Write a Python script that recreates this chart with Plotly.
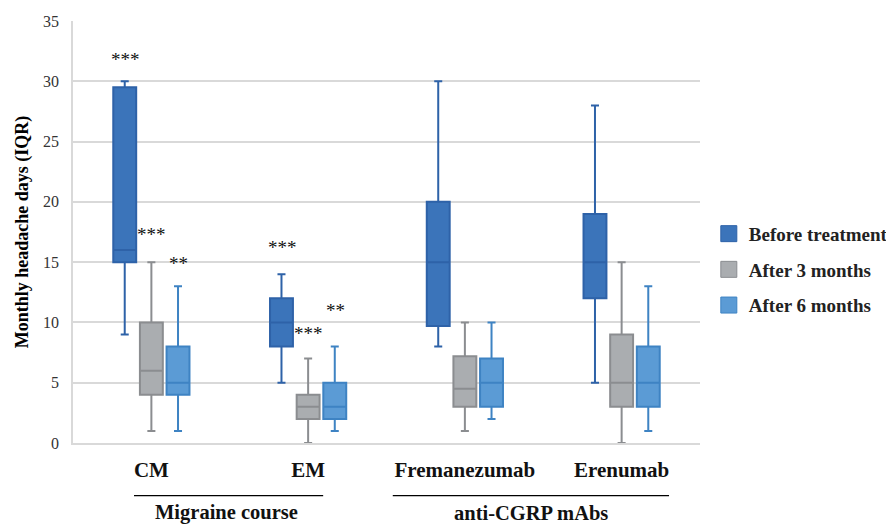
import plotly.graph_objects as go

categories = ["CM", "EM", "Fremanezumab", "Erenumab"]
series_names = ["Before treatment", "After 3 months", "After 6 months"]

before_low = [9, 5, 8, 5]
before_q1 = [15, 8, 9.7, 12]
before_med = [16, 10, 15, 15]
before_q3 = [29.5, 12, 20, 19]
before_high = [30, 14, 30, 28]

m3_low = [1, 0, 1, 0]
m3_q1 = [4, 2, 3, 3]
m3_med = [6, 3, 4.5, 5]
m3_q3 = [10, 4, 7.2, 9]
m3_high = [15, 7, 10, 15]

m6_low = [1, 1, 2, 1]
m6_q1 = [4, 2, 3, 3]
m6_med = [5, 3, 5, 5]
m6_q3 = [8, 5, 7, 8]
m6_high = [13, 8, 10, 13]

# significance markers: (category, series index, label, y)
sig_cat = ["CM", "CM", "CM", "EM", "EM", "EM"]
sig_series = [0, 1, 2, 0, 1, 2]
sig_text = ["***", "***", "**", "***", "***", "**"]
sig_y = [31.8, 17.3, 14.9, 16.2, 9.1, 11.0]

group_names = ["Migraine course", "anti-CGRP mAbs"]

fills = ["#3B74BA", "#AAADB0", "#5B9BD5"]
borders = ["#2E62A8", "#8B8D90", "#3E83C3"]
SERIF = "Liberation Serif"

data = [
    (before_low, before_q1, before_med, before_q3, before_high),
    (m3_low, m3_q1, m3_med, m3_q3, m3_high),
    (m6_low, m6_q1, m6_med, m6_q3, m6_high),
]

fig = go.Figure()
for i, (lo, q1, med, q3, hi) in enumerate(data):
    fig.add_trace(go.Box(
        x=categories, q1=q1, median=med, q3=q3, lowerfence=lo, upperfence=hi,
        name=series_names[i], fillcolor=fills[i],
        line=dict(color=borders[i], width=2), whiskerwidth=0.35,
        boxpoints=False, showlegend=False, hoverinfo="skip",
    ))
for i in range(3):
    fig.add_trace(go.Scatter(
        x=[None], y=[None], mode="markers", name=series_names[i],
        legendgroup=series_names[i],
        marker=dict(symbol="square", size=18, color=fills[i],
                    line=dict(color=borders[i], width=1)),
    ))

offsets = [-26, 0, 27]
for c, s, t, y in zip(sig_cat, sig_series, sig_text, sig_y):
    fig.add_annotation(x=c, y=y, xref="x", yref="y", text=t, showarrow=False,
                       xanchor="center", xshift=offsets[s],
                       font=dict(family=SERIF, size=19, color="#111"))

# group brackets below the axis
brackets = [(0.0973, 0.399, 0.2456), (0.510, 0.9506, 0.7305)]
for (x0, x1, xc), name in zip(brackets, group_names):
    fig.add_shape(type="line", xref="paper", yref="paper", x0=x0, x1=x1,
                  y0=-0.1249, y1=-0.1249, line=dict(color="black", width=1.2))
    fig.add_annotation(x=xc, y=-0.1650, xref="paper", yref="paper", text="<b>%s</b>" % name,
                       showarrow=False, xanchor="center", yanchor="middle",
                       font=dict(family=SERIF, size=20.5, color="#111"))

fig.update_layout(
    width=886, height=517,
    margin=dict(l=65, r=194, t=13, b=82, autoexpand=False),
    plot_bgcolor="white", paper_bgcolor="white",
    boxmode="group", boxgap=0.49, boxgroupgap=0.14,
    font=dict(family=SERIF, color="black"),
    legend=dict(xref="container", yref="container", x=0.791, y=0.60,
                xanchor="left", yanchor="top",
                font=dict(family=SERIF, size=19, color="#222", weight="bold"),
                tracegroupgap=8, bgcolor="rgba(0,0,0,0)"),
    xaxis=dict(type="category", showline=True, linecolor="#D9D9D9", linewidth=1.5,
               ticks="", showgrid=False, ticklabelstandoff=7, automargin=False,
               tickfont=dict(family=SERIF, size=21, color="#111", weight="bold")),
    yaxis=dict(range=[0, 35], dtick=5, showgrid=True, gridcolor="#D9D9D9", gridwidth=1.5,
               showline=True, linecolor="#D9D9D9", linewidth=1.5, zeroline=False,
               ticks="", ticklabelstandoff=9, automargin=False,
               tickfont=dict(family=SERIF, size=16, color="#333"),
               title=dict(text="<b>Monthly headache days (IQR)</b>", standoff=10,
                          font=dict(family=SERIF, size=18, color="black"))),
)

fig.write_html("out.html")
